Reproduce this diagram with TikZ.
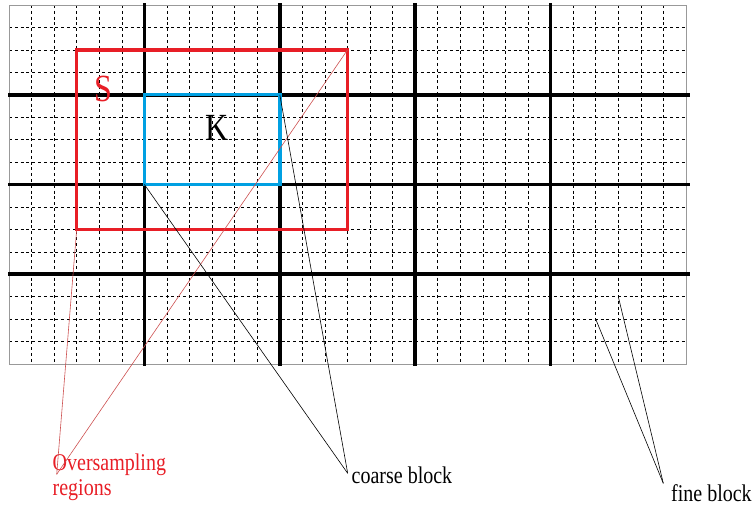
\documentclass[tikz,border=0pt]{standalone}
\usepackage{fontspec}
\setmainfont{Liberation Serif}
\usepackage{xcolor}
\usepackage{graphicx}
\usepackage{tikz}
\usetikzlibrary{positioning}

\definecolor{osred}{RGB}{232,30,38}
\definecolor{linered}{RGB}{205,80,80}
\definecolor{kblue}{RGB}{0,160,226}
\newcommand\tall[1]{\scalebox{1}[1.2]{#1}}

\begin{document}
\begin{tikzpicture}[
  x=1pt, y=-1pt,
  declare function={gx(\i)=9+22.567*\i; gy(\j)=5+22.44*\j;},
  fine/.style={line width=0.6pt, dash pattern=on 3pt off 2.8pt},
  coarse/.style={line width=3.6pt},
  region/.style={line width=3.4pt},
  leader/.style={line width=0.6pt},
  lbl/.style={font=\fontsize{20}{25}\selectfont, inner sep=0pt, anchor=base west}
]
\useasboundingbox (0,0) rectangle (756,531);

% fine grid
\foreach \i in {1,...,29}
  \draw[fine] ({gx(\i)},{gy(0)}) -- ({gx(\i)},{gy(16)});
\foreach \j in {1,...,15}
  \draw[fine] ({gx(0)},{gy(\j)}) -- ({gx(30)},{gy(\j)});
\draw[gray!80, line width=0.9pt] ({gx(0)},{gy(0)}) rectangle ({gx(30)},{gy(16)});

% coarse grid
\foreach \i in {6,12,18,24}
  \draw[coarse] ({gx(\i)},3) -- ({gx(\i)},366);
\foreach \j in {4,8,12}
  \draw[coarse] (8,{gy(\j)}) -- (690,{gy(\j)});

% corners
\coordinate (S-sw) at ({gx(3)},{gy(10)});
\coordinate (S-ne) at ({gx(15)},{gy(2)});
\coordinate (K-sw) at ({gx(6)},{gy(8)});
\coordinate (K-ne) at ({gx(12)},{gy(4)});
\coordinate (fine-a) at ({gx(26)},{gy(14)});
\coordinate (fine-b) at ({gx(27)},{gy(13)});

% regions
\draw[region, osred] (S-sw) rectangle (S-ne);
\draw[region, kblue] (K-sw) rectangle (K-ne);
\node[text=osred, font=\fontsize{32}{36}\selectfont, inner sep=0pt] (S) at (103,89) {\tall{S}};
\node[font=\fontsize{32}{36}\selectfont, inner sep=0pt] (K) at (217,127.5) {\tall{K}};

% labels
\node[lbl, text=osred, align=left] (oslabel) at (52.5,495) {\tall{Oversampling}\\\tall{regions}};
\node[lbl] (coarselabel) at (351.5,483) {\tall{coarse block}};
\node[lbl] (finelabel) at (671,501.5) {\tall{fine block}};
\coordinate (os-tip) at (56.7,474.3);
\coordinate (coarse-tip) at (347.7,473.3);
\coordinate (fine-tip) at (663.3,483.3);

% leaders
\draw[leader, linered] (os-tip) -- (S-sw);
\draw[leader, linered] (os-tip) -- (S-ne);
\draw[leader] (coarse-tip) -- (K-sw);
\draw[leader] (coarse-tip) -- (K-ne);
\draw[leader] (fine-tip) -- (fine-a);
\draw[leader] (fine-tip) -- (fine-b);
\end{tikzpicture}
\end{document}
